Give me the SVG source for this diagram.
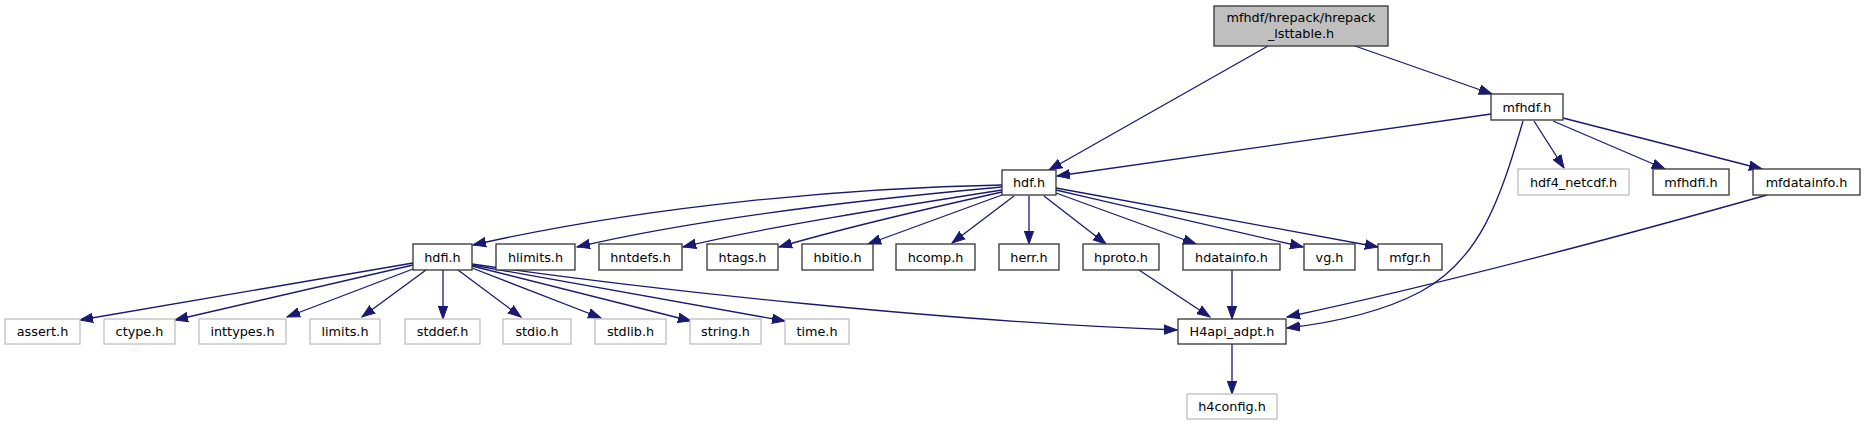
<svg xmlns="http://www.w3.org/2000/svg" width="1865" height="425" viewBox="0 0 1865 425">
<style>
.n rect{fill:#ffffff;stroke:#333333;stroke-width:1.3}
.g rect{fill:#ffffff;stroke:#bfbfbf;stroke-width:1.3}
.r rect{fill:#bfbfbf;stroke:#333333;stroke-width:1.3}
text{font-family:"DejaVu Sans",Verdana,sans-serif;font-size:12.8px;fill:#000000;text-anchor:middle}
.e path{fill:none;stroke:#191970;stroke-width:1.3;marker-end:url(#ah)}
</style>
<defs>
<marker id="ah" markerUnits="userSpaceOnUse" markerWidth="14" markerHeight="11" refX="13" refY="5" orient="auto" viewBox="0 0 14 10">
<path d="M0,0.3 L13,5 L0,9.7 z" fill="#191970" stroke="#191970" stroke-width="1"/>
</marker>
</defs>
<rect width="1865" height="425" fill="#ffffff"/>
<g id="edges" class="e">
<path d="M1268,46 L1049,170"/>
<path d="M1355,46 L1492,94"/>
<path d="M1491,114 L1057,176"/>
<path d="M1523,121 C1500,200 1480,260 1420,292 C1380,313 1330,323 1287,328"/>
<path d="M1534,121 L1564,168"/>
<path d="M1553,121 L1665,169"/>
<path d="M1563,118 L1762,169"/>
<path d="M1767,195 C1650,228 1450,282 1287,317"/>
<path d="M1002,185 C850,188 650,205 473,245"/>
<path d="M1002,187 C880,198 700,218 577,247"/>
<path d="M1002,190 C900,206 760,228 683,247"/>
<path d="M1002,192 C930,208 830,232 779,247"/>
<path d="M1002,195 L868,244"/>
<path d="M1014,196 L952,243"/>
<path d="M1029,196 L1029,244"/>
<path d="M1044,196 L1106,244"/>
<path d="M1056,193 L1196,244"/>
<path d="M1056,190 C1150,212 1250,235 1303,247"/>
<path d="M1056,188 C1180,210 1300,232 1378,247"/>
<path d="M413,263 L80,320"/>
<path d="M413,265 L175,320"/>
<path d="M413,269 L287,317"/>
<path d="M426,270 L362,317"/>
<path d="M443,270 L443,319"/>
<path d="M458,270 L521,317"/>
<path d="M472,268 L601,318"/>
<path d="M472,266 L691,321"/>
<path d="M472,265 L785,321"/>
<path d="M472,264 C650,290 950,322 1177,330"/>
<path d="M1139,270 L1210,317"/>
<path d="M1232,270 L1232,319"/>
<path d="M1232,344 L1232,394"/>
</g>
<g id="root" class="r"><rect x="1214" y="6" width="174" height="40"/><text x="1301" y="22">mfhdf/hrepack/hrepack</text><text x="1301" y="38">_lsttable.h</text></g>
<g id="mfhdf" class="n"><rect x="1491" y="94" width="72" height="26"/><text x="1527" y="112">mfhdf.h</text></g>
<g id="hdf" class="n"><rect x="1002" y="170" width="54" height="25"/><text x="1029" y="187">hdf.h</text></g>
<g id="hdfi" class="n"><rect x="413" y="244" width="59" height="26"/><text x="442.5" y="261.5">hdfi.h</text></g>
<g id="hlimits" class="n"><rect x="496" y="244" width="79" height="26"/><text x="535.5" y="261.5">hlimits.h</text></g>
<g id="hntdefs" class="n"><rect x="599" y="244" width="83" height="26"/><text x="640.5" y="261.5">hntdefs.h</text></g>
<g id="htags" class="n"><rect x="707" y="244" width="71" height="26"/><text x="742.5" y="261.5">htags.h</text></g>
<g id="hbitio" class="n"><rect x="802" y="244" width="71" height="26"/><text x="837.5" y="261.5">hbitio.h</text></g>
<g id="hcomp" class="n"><rect x="896" y="244" width="79" height="26"/><text x="935.5" y="261.5">hcomp.h</text></g>
<g id="herr" class="n"><rect x="999" y="244" width="60" height="26"/><text x="1029" y="261.5">herr.h</text></g>
<g id="hproto" class="n"><rect x="1083" y="244" width="76" height="26"/><text x="1121" y="261.5">hproto.h</text></g>
<g id="hdatainfo" class="n"><rect x="1183" y="244" width="97" height="26"/><text x="1231.5" y="261.5">hdatainfo.h</text></g>
<g id="vg" class="n"><rect x="1304" y="244" width="51" height="26"/><text x="1329.5" y="261.5">vg.h</text></g>
<g id="mfgr" class="n"><rect x="1378" y="244" width="64" height="26"/><text x="1410" y="261.5">mfgr.h</text></g>
<g id="hdf4_netcdf" class="g"><rect x="1518" y="169" width="111" height="26"/><text x="1573.5" y="186.5">hdf4_netcdf.h</text></g>
<g id="mfhdfi" class="n"><rect x="1653" y="169" width="76" height="26"/><text x="1691" y="186.5">mfhdfi.h</text></g>
<g id="mfdatainfo" class="n"><rect x="1753" y="169" width="107" height="26"/><text x="1806.5" y="186.5">mfdatainfo.h</text></g>
<g id="assert" class="g"><rect x="5" y="319" width="75" height="25"/><text x="42.5" y="336">assert.h</text></g>
<g id="ctype" class="g"><rect x="104" y="319" width="71" height="25"/><text x="139.5" y="336">ctype.h</text></g>
<g id="inttypes" class="g"><rect x="199" y="319" width="87" height="25"/><text x="242.5" y="336">inttypes.h</text></g>
<g id="limits" class="g"><rect x="310" y="319" width="70" height="25"/><text x="345" y="336">limits.h</text></g>
<g id="stddef" class="g"><rect x="405" y="319" width="75" height="25"/><text x="442.5" y="336">stddef.h</text></g>
<g id="stdio" class="g"><rect x="503" y="319" width="68" height="25"/><text x="537" y="336">stdio.h</text></g>
<g id="stdlib" class="g"><rect x="595" y="319" width="71" height="25"/><text x="630.5" y="336">stdlib.h</text></g>
<g id="string" class="g"><rect x="690" y="319" width="71" height="25"/><text x="725.5" y="336">string.h</text></g>
<g id="time" class="g"><rect x="785" y="319" width="64" height="25"/><text x="817" y="336">time.h</text></g>
<g id="H4api_adpt" class="n"><rect x="1178" y="319" width="108" height="25"/><text x="1232" y="336">H4api_adpt.h</text></g>
<g id="h4config" class="g"><rect x="1187" y="394" width="90" height="25"/><text x="1232" y="411">h4config.h</text></g>
</svg>
